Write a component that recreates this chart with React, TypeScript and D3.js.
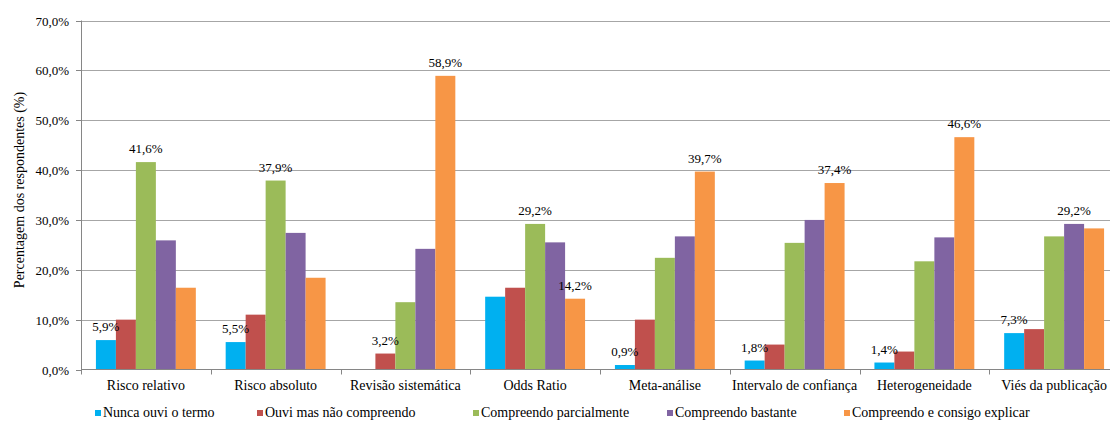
import * as d3 from 'd3'

const categories = [
  'Risco relativo',
  'Risco absoluto',
  'Revisão sistemática',
  'Odds Ratio',
  'Meta-análise',
  'Intervalo de confiança',
  'Heterogeneidade',
  'Viés da publicação',
]

const seriesNames = [
  'Nunca ouvi o termo',
  'Ouvi mas não compreendo',
  'Compreendo parcialmente',
  'Compreendo bastante',
  'Compreendo e consigo explicar',
]

// percentages per category, one array per answer
const nuncaOuvi = [5.9, 5.5, 0, 14.6, 0.9, 1.8, 1.4, 7.3]
const ouviMasNao = [10.0, 11.0, 3.2, 16.4, 10.0, 5.0, 3.6, 8.1]
const parcialmente = [41.6, 37.9, 13.5, 29.2, 22.4, 25.4, 21.7, 26.7]
const bastante = [25.9, 27.4, 24.2, 25.5, 26.7, 30.0, 26.5, 29.2]
const consigoExplicar = [16.4, 18.4, 58.9, 14.2, 39.7, 37.4, 46.6, 28.3]

const yTicks = [0, 10, 20, 30, 40, 50, 60, 70]

// which series carry a value label in each category
const labelled = [[0, 2], [0, 2], [1, 4], [2, 4], [0, 4], [0, 4], [0, 4], [0, 3]]

const series = [nuncaOuvi, ouviMasNao, parcialmente, bastante, consigoExplicar]
const colors = ['#00b0f0', '#c0504d', '#9bbb59', '#8064a2', '#f79646']

const W = 1110
const H = 421
const left = 81
const step = 129.75
const bottom = 369.5
const top = 20.5
const legendX = [95, 257, 473, 667, 844]

const fmt = (v: number) => v.toFixed(1).replace('.', ',') + '%'

export default function App() {
  const x = d3.scaleBand<string>()
    .domain(categories)
    .range([left, left + step * categories.length])
    .paddingInner(0.23)
    .paddingOuter(0.115)

  const sub = d3.scaleBand<number>()
    .domain(d3.range(series.length))
    .range([0, x.bandwidth()])

  const y = d3.scaleLinear().domain([0, 70]).range([bottom, top])

  const gap = x.step() * x.paddingInner() / 2

  return (
    <svg
      width={W}
      height={H}
      style={{
        position: 'absolute', left: 0, top: 0, background: '#fff',
        fontFamily: '"Liberation Serif"',
      }}
    >
      {/* gridlines */}
      {yTicks.slice(1).map(t => (
        <line key={t} x1={left} x2={W} y1={Math.round(y(t)) + 0.5} y2={Math.round(y(t)) + 0.5}
          stroke="#a6a6a6" strokeWidth={1} />
      ))}

      {/* y ticks + labels */}
      {yTicks.map(t => (
        <g key={t} transform={`translate(0,${Math.round(y(t)) + 0.5})`}>
          <line x1={left - 5} x2={left} stroke="#868686" />
          <text x={69} dy={4.5} textAnchor="end" fontSize={13} fill="#000">
            {t.toFixed(1).replace('.', ',') + '%'}
          </text>
        </g>
      ))}

      <text transform={`translate(24,190) rotate(-90)`} textAnchor="middle" fontSize={14} fill="#000">
        Percentagem dos respondentes (%)
      </text>

      {/* bars */}
      {categories.map((c, i) => (
        <g key={c}>
          {series.map((s, j) => s[i] > 0 && (
            <rect key={j}
              x={x(c)! + sub(j)!}
              width={sub.bandwidth()}
              y={y(s[i])}
              height={y(0) - y(s[i])}
              fill={colors[j]} />
          ))}
        </g>
      ))}

      {/* axes */}
      <line x1={left + 0.5} x2={left + 0.5} y1={top} y2={bottom + 5} stroke="#868686" />
      <line x1={left} x2={W} y1={bottom} y2={bottom} stroke="#868686" />
      {categories.map(c => {
        const bx = Math.round(x(c)! + x.bandwidth() + gap) + 0.5
        return <line key={c} x1={bx} x2={bx} y1={bottom} y2={bottom + 5} stroke="#868686" />
      })}

      {/* value labels */}
      {categories.map((c, i) => labelled[i].map(j => (
        <text key={c + j}
          x={x(c)! + sub(j)! + sub.bandwidth() / 2}
          y={y(series[j][i]) - 9}
          textAnchor="middle" fontSize={13} fill="#000">
          {fmt(series[j][i])}
        </text>
      )))}

      {/* category labels */}
      {categories.map(c => (
        <text key={c} x={x(c)! + x.bandwidth() / 2} y={390} textAnchor="middle" fontSize={14} fill="#000">
          {c}
        </text>
      ))}

      {/* legend */}
      {seriesNames.map((n, j) => (
        <g key={n} transform={`translate(${legendX[j]},0)`}>
          <rect x={0} y={410} width={6} height={6} fill={colors[j]} />
          <text x={8} y={417} fontSize={14} fill="#000">{n}</text>
        </g>
      ))}
    </svg>
  )
}
